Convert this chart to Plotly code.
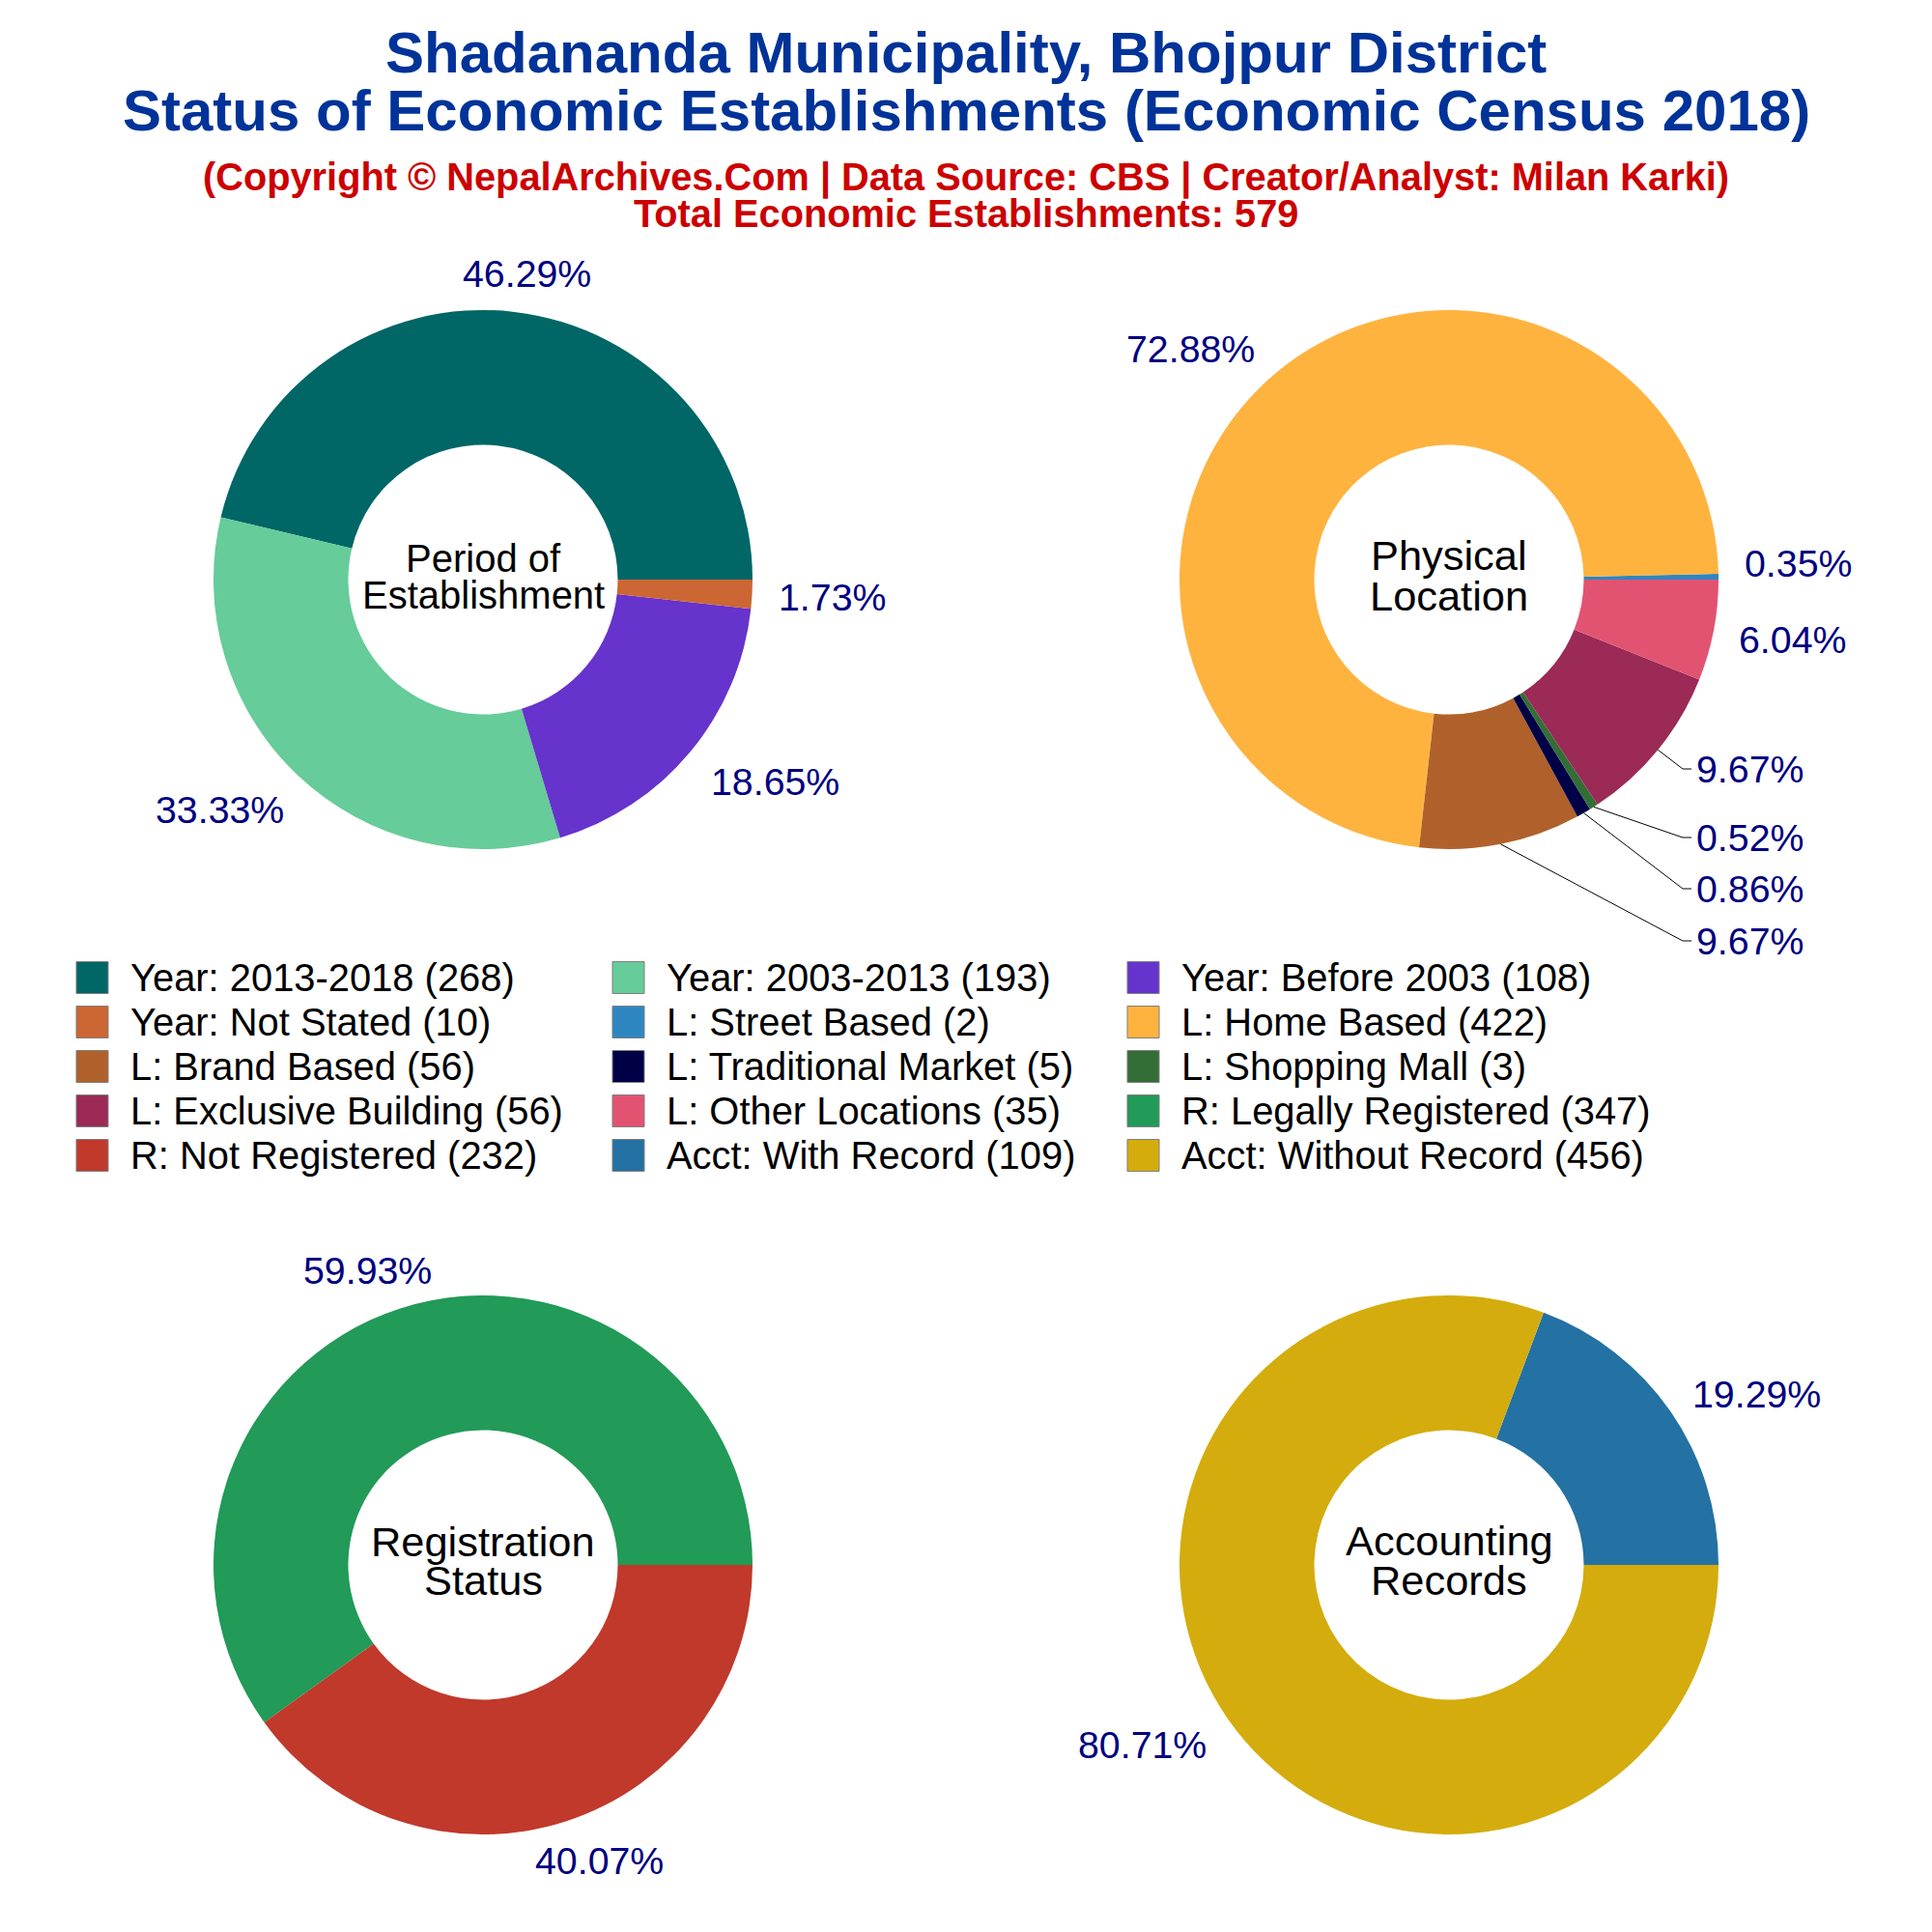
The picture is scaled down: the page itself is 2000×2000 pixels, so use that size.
import math
import plotly.graph_objects as go

TITLE_LINES = ["Shadananda Municipality, Bhojpur District",
               "Status of Economic Establishments (Economic Census 2018)"]
SUB_LINES = ["(Copyright © NepalArchives.Com | Data Source: CBS | Creator/Analyst: Milan Karki)",
             "Total Economic Establishments: 579"]

period_labels = ["Year: 2013-2018", "Year: 2003-2013", "Year: Before 2003", "Year: Not Stated"]
period_values = [268, 193, 108, 10]
period_colors = ["#006666", "#66CC99", "#6633CC", "#CC6633"]

location_labels = ["L: Street Based", "L: Home Based", "L: Brand Based", "L: Traditional Market",
                   "L: Shopping Mall", "L: Exclusive Building", "L: Other Locations"]
location_values = [2, 422, 56, 5, 3, 56, 35]
location_colors = ["#2E86C1", "#FFB33F", "#B0612B", "#000047", "#336E36", "#9B2A57", "#E25372"]

registration_labels = ["R: Legally Registered", "R: Not Registered"]
registration_values = [347, 232]
registration_colors = ["#229A58", "#C0392B"]

accounting_labels = ["Acct: With Record", "Acct: Without Record"]
accounting_values = [109, 456]
accounting_colors = ["#2471A3", "#D4AC0D"]

# placement of the percentage labels, in page pixels (centre of each text)
period_label_pos = [(545, 283), (227, 838), (802, 809), (861, 618)]
location_label_pos = [(1861, 583), (1232, 361), (1811, 974), (1811, 920), (1811, 867), (1811, 796), (1855, 662)]
registration_label_pos = [(380, 1315), (620, 1926)]
accounting_label_pos = [(1818, 1443), (1182, 1806)]
# which location slices carry a leader line
location_leaders = [2, 3, 4, 5]

S = 2000
TITLE_C = "#003399"
SUB_C = "#CC0000"
LABEL_C = "#000080"
R = 279
KINK_X, LEADER_END_X = 1742, 1751

panels = [
    (period_labels, period_values, period_colors, 500, 600, ["Period of", "Establishment"], 40, (-22, 16),
     period_label_pos, []),
    (location_labels, location_values, location_colors, 1500, 600, ["Physical", "Location"], 43.4, (-25, 17),
     location_label_pos, location_leaders),
    (registration_labels, registration_values, registration_colors, 500, 1620, ["Registration", "Status"], 43.4,
     (-24, 16), registration_label_pos, []),
    (accounting_labels, accounting_values, accounting_colors, 1500, 1620, ["Accounting", "Records"], 43.4, (-25, 16),
     accounting_label_pos, []),
]

fig = go.Figure()
ann = []
shapes = []


def text(s, px, py, size, color, bold=False, anchor="center"):
    ann.append(dict(text=f"<b>{s}</b>" if bold else s, x=px / S, y=1 - py / S, xref="paper", yref="paper",
                    xanchor=anchor, yanchor="middle", showarrow=False,
                    font=dict(size=size, color=color)))


def fx(px):
    return px / S


def fy(py):
    return 1 - py / S


for labels, values, colors, cx, cy, center, csize, cdy, label_pos, leaders in panels:
    total = sum(values)
    fig.add_trace(go.Pie(
        labels=labels, values=values, sort=False, direction="counterclockwise",
        rotation=90 - 360 * values[0] / total,
        hole=0.5, marker=dict(colors=colors, line=dict(width=0)),
        domain=dict(x=[(cx - R) / S, (cx + R) / S], y=[1 - (cy + R) / S, 1 - (cy - R) / S]),
        textinfo="none", hoverinfo="label+value+percent", showlegend=False))
    text(center[0], cx, cy + cdy[0], csize, "#000000")
    text(center[1], cx, cy + cdy[1], csize, "#000000")
    cum = 0
    for i, v in enumerate(values):
        mid = (cum + v / 2) / total * 2 * math.pi
        cum += v
        lx, ly = label_pos[i]
        text(f"{v / total:.2%}", lx, ly, 39.3, LABEL_C)
        if i in leaders:
            sx, sy = cx + R * math.cos(mid), cy - R * math.sin(mid)
            path = f"M{fx(sx)},{fy(sy)} L{fx(KINK_X)},{fy(ly)} L{fx(LEADER_END_X)},{fy(ly)}"
            shapes.append(dict(type="path", xref="paper", yref="paper", path=path,
                               line=dict(color="#000000", width=1)))

text(TITLE_LINES[0], 1000, 55, 60, TITLE_C, True)
text(TITLE_LINES[1], 1000, 115, 60, TITLE_C, True)
text(SUB_LINES[0], 1000, 183, 39.75, SUB_C, True)
text(SUB_LINES[1], 1000, 221, 39.75, SUB_C, True)

# legend: three columns, filled row by row
legend_labels = period_labels + location_labels + registration_labels + accounting_labels
legend_values = period_values + location_values + registration_values + accounting_values
legend_colors = period_colors + location_colors + registration_colors + accounting_colors
col_x = [79, 634, 1167]
row_y = [1012, 1058, 1104, 1150, 1196]
SW = 33
for i, (lab, val, col) in enumerate(zip(legend_labels, legend_values, legend_colors)):
    x0 = col_x[i % 3]
    y0 = row_y[i // 3]
    shapes.append(dict(type="rect", xref="paper", yref="paper", x0=x0 / S, x1=(x0 + SW) / S,
                       y0=1 - (y0 - SW / 2) / S, y1=1 - (y0 + SW / 2) / S, fillcolor=col,
                       line=dict(color="#7f7f7f", width=1)))
    text(f"{lab} ({val})", x0 + SW + 21, y0, 39.9, "#000000", anchor="left")

fig.update_layout(width=S, height=S, margin=dict(l=0, r=0, t=0, b=0), showlegend=False,
                  paper_bgcolor="white", plot_bgcolor="white",
                  font=dict(family="Liberation Sans, Arial, sans-serif"),
                  annotations=ann, shapes=shapes)
fig.write_html("out.html", config={"displayModeBar": False},
               post_script="document.body.style.margin='0';")
